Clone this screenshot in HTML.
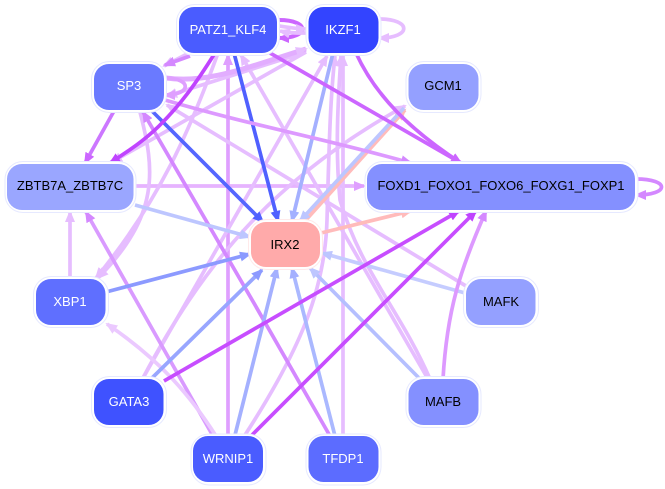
<!DOCTYPE html>
<html>
<head>
<meta charset="utf-8">
<style>
html,body{margin:0;padding:0;background:#fff;width:665px;height:489px;overflow:hidden}
svg{display:block}
text{font-family:"Liberation Sans",sans-serif;font-size:13px;text-anchor:middle}
path{fill:none;stroke-width:3.7}
.n{stroke:none}
.o{fill:#fff;stroke:#e6e9ff;stroke-width:1}
</style>
</head>
<body>
<svg xmlns="http://www.w3.org/2000/svg" width="665" height="489" viewBox="0 0 665 489">
<defs>
<marker id="a" markerUnits="userSpaceOnUse" markerWidth="13" markerHeight="10" refX="10" refY="5" orient="auto"><polygon points="0,0 12,5 0,10" fill="#e6bdff"/></marker>
<marker id="b" markerUnits="userSpaceOnUse" markerWidth="13" markerHeight="10" refX="10" refY="5" orient="auto"><polygon points="0,0 12,5 0,10" fill="#df9fff"/></marker>
<marker id="c" markerUnits="userSpaceOnUse" markerWidth="13" markerHeight="10" refX="10" refY="5" orient="auto"><polygon points="0,0 12,5 0,10" fill="#cc66ff"/></marker>
<marker id="d" markerUnits="userSpaceOnUse" markerWidth="13" markerHeight="10" refX="10" refY="5" orient="auto"><polygon points="0,0 12,5 0,10" fill="#c044ff"/></marker>
<marker id="e" markerUnits="userSpaceOnUse" markerWidth="13" markerHeight="10" refX="10" refY="5" orient="auto"><polygon points="0,0 12,5 0,10" fill="#5060ff"/></marker>
<marker id="f" markerUnits="userSpaceOnUse" markerWidth="13" markerHeight="10" refX="10" refY="5" orient="auto"><polygon points="0,0 12,5 0,10" fill="#8c9aff"/></marker>
<marker id="g" markerUnits="userSpaceOnUse" markerWidth="13" markerHeight="10" refX="10" refY="5" orient="auto"><polygon points="0,0 12,5 0,10" fill="#a4b0ff"/></marker>
<marker id="h" markerUnits="userSpaceOnUse" markerWidth="13" markerHeight="10" refX="10" refY="5" orient="auto"><polygon points="0,0 12,5 0,10" fill="#bdc6ff"/></marker>
<marker id="i" markerUnits="userSpaceOnUse" markerWidth="13" markerHeight="10" refX="10" refY="5" orient="auto"><polygon points="0,0 12,5 0,10" fill="#ffbbbb"/></marker>
<marker id="j" markerUnits="userSpaceOnUse" markerWidth="13" markerHeight="10" refX="10" refY="5" orient="auto"><polygon points="0,0 12,5 0,10" fill="#d488ff"/></marker>
<marker id="k" markerUnits="userSpaceOnUse" markerWidth="13" markerHeight="10" refX="10" refY="5" orient="auto"><polygon points="0,0 12,5 0,10" fill="#ebc9ff"/></marker>
</defs>

<!-- pale edges -->
<path d="M134 186 L364 186" stroke="#e6b3ff" marker-end="url(#b)"/>
<path d="M70 278 L70 212" stroke="#e6bdff" marker-end="url(#a)"/>
<path d="M228 436 L228 55" stroke="#df9fff" marker-end="url(#b)"/>
<path d="M343 436 L343 56" stroke="#e6bdff" marker-end="url(#a)"/>
<path d="M143 378 L327 56" stroke="#e6bdff" marker-end="url(#a)"/>
<path d="M143 378 C200 270 270 180 405 106" stroke="#e6bdff" marker-end="url(#a)"/>
<path d="M245 435 C300 350 325 290 327 220 C329 150 330 100 335 56" stroke="#e6bdff" marker-end="url(#a)"/>
<path d="M430 379 C400 310 360 270 340 200 C335 150 338 100 341 56" stroke="#e6bdff" marker-end="url(#a)"/>
<path d="M428 379 L241 55" stroke="#e6bdff" marker-end="url(#a)"/>
<path d="M218 53 C190 130 160 200 96 278" stroke="#e6bdff" marker-end="url(#a)"/>
<path d="M140 112 C155 170 160 215 98 278" stroke="#e6bdff" marker-end="url(#a)"/>
<path d="M306 52 L112 162" stroke="#e6bdff" marker-end="url(#a)"/>
<path d="M466 286 L167 105" stroke="#e6bdff" marker-end="url(#a)"/>
<path d="M306 52 L167 96" stroke="#e6bdff" marker-end="url(#a)"/>
<path d="M166 78 C210 84 250 66 306 49" stroke="#e2adff" style="stroke-width:5" marker-end="url(#a)"/>
<path d="M165 78 C192 78 192 95 165 95" stroke="#df9fff" marker-end="url(#b)"/>
<path d="M187 54 L164 66" stroke="#e6bdff" marker-end="url(#a)"/>
<path d="M190 56 L165 65" stroke="#d488ff" marker-end="url(#j)"/>
<path d="M213 436 C170 360 130 290 86 212" stroke="#d99aff" marker-end="url(#j)"/>
<path d="M216 436 C190 395 160 360 107 324" stroke="#ebc9ff" marker-end="url(#k)"/>
<path d="M330 436 C270 330 200 210 143 112" stroke="#d488ff" marker-end="url(#j)"/>

<!-- blue edges -->
<path d="M234 53 L278 221" stroke="#5060ff" marker-end="url(#e)"/>
<path d="M152 111 L263 222" stroke="#5566ff" marker-end="url(#e)"/>
<path d="M333 53 L292 221" stroke="#a4b0ff" marker-end="url(#g)"/>
<path d="M135 205 L250 237" stroke="#bdc6ff" marker-end="url(#h)"/>
<path d="M106 292 L250 254" stroke="#8c9aff" marker-end="url(#f)"/>
<path d="M152 378 L262 270" stroke="#98a6ff" marker-end="url(#f)"/>
<path d="M235 435 L277 268" stroke="#a4b0ff" marker-end="url(#g)"/>
<path d="M335 436 L292 268" stroke="#aab8ff" marker-end="url(#g)"/>
<path d="M420 379 L310 268" stroke="#b5bfff" marker-end="url(#h)"/>
<path d="M465 293 L322 253" stroke="#c5ccff" marker-end="url(#h)"/>
<path d="M305 221 L405 110" stroke="#ffbbbb" marker-end="url(#i)"/>
<path d="M321 233 L411 211" stroke="#ffbbbb" marker-end="url(#i)"/>
<path d="M404 108 L300 221" stroke="#bdc6ff" marker-end="url(#h)"/>

<!-- purple -->
<path d="M165 100 C250 125 330 140 411 163" stroke="#dd99ff" marker-end="url(#j)"/>
<path d="M114 111 L85 163" stroke="#cc77ff" marker-end="url(#c)"/>
<path d="M215 53 C195 85 180 105 160 125 C145 140 130 150 110 163" stroke="#c044ff" marker-end="url(#d)"/>
<path d="M270 53 L461 163" stroke="#cc66ff" marker-end="url(#c)"/>
<path d="M356 53 C375 95 410 130 461 163" stroke="#cc66ff" marker-end="url(#c)"/>
<path d="M164 381 L459 211" stroke="#c74dff" marker-end="url(#d)"/>
<path d="M252 435 L476 211" stroke="#c74dff" marker-end="url(#d)"/>
<path d="M443 379 C447 310 460 270 486 211" stroke="#dd99ff" marker-end="url(#j)"/>

<!-- loops -->
<path d="M279 20 C310 20 310 38 279 38" stroke="#cc66ff" style="stroke-width:4" marker-end="url(#c)"/>
<path d="M279 26 C292 28 298 29 306 29" stroke="#e6bdff" marker-end="url(#a)"/>
<path d="M306 33 C295 33 288 33 280 31" stroke="#e6bdff" marker-end="url(#a)"/>
<path d="M379 19 C412 19 412 38 379 38" stroke="#e6bdff" marker-end="url(#a)"/>
<path d="M636 179 C670 179 670 195 636 195" stroke="#d488ff" marker-end="url(#j)"/>

<!-- nodes -->
<rect class="o" x="176.500" y="4.500" width="103" height="51" rx="18"/><rect class="n" x="179" y="7" width="98" height="46" rx="15" fill="#4a5cff"/>
<text x="228" y="34" fill="#fff">PATZ1_KLF4</text>

<rect class="o" x="306" y="4.500" width="75" height="51" rx="18"/><rect class="n" x="308.500" y="7" width="70" height="46" rx="15" fill="#3344ff"/>
<text x="343" y="34" fill="#fff">IKZF1</text>

<rect class="o" x="91.500" y="61.500" width="75" height="51" rx="18"/><rect class="n" x="94" y="64" width="70" height="46" rx="15" fill="#6a7aff"/>
<text x="129" y="90" fill="#fff">SP3</text>

<rect class="o" x="406" y="61.500" width="75" height="51" rx="18"/><rect class="n" x="408.500" y="64" width="70" height="46" rx="15" fill="#94a0ff"/>
<text x="443" y="90">GCM1</text>

<rect class="o" x="5" y="161.500" width="131" height="51" rx="18"/><rect class="n" x="7" y="164" width="126.500" height="46" rx="15" fill="#9aa6ff"/>
<text x="70" y="190">ZBTB7A_ZBTB7C</text>

<rect class="o" x="365" y="161.500" width="273" height="51" rx="18"/><rect class="n" x="367" y="164" width="268" height="46" rx="15" fill="#8490ff"/>
<text x="501" y="190">FOXD1_FOXO1_FOXO6_FOXG1_FOXP1</text>

<rect class="o" x="248.500" y="219.500" width="74" height="50" rx="18" style="stroke:#ffeaea"/><rect class="n" x="251" y="222" width="69" height="45" rx="15" fill="#ffaaaa"/>
<text x="285" y="249">IRX2</text>

<rect class="o" x="33.500" y="276.500" width="75" height="51" rx="18"/><rect class="n" x="36" y="279" width="69.500" height="46" rx="15" fill="#5f6fff"/>
<text x="70" y="306" fill="#fff">XBP1</text>

<rect class="o" x="463.500" y="276.500" width="75" height="51" rx="18"/><rect class="n" x="466" y="279" width="69.500" height="46" rx="15" fill="#94a0ff"/>
<text x="501" y="306">MAFK</text>

<rect class="o" x="91.500" y="376.500" width="75" height="51" rx="18"/><rect class="n" x="94" y="379" width="69.500" height="46" rx="15" fill="#3f52ff"/>
<text x="129" y="406" fill="#fff">GATA3</text>

<rect class="o" x="406" y="376.500" width="75" height="51" rx="18"/><rect class="n" x="408.500" y="379" width="70" height="46" rx="15" fill="#8490ff"/>
<text x="443" y="406">MAFB</text>

<rect class="o" x="191" y="434" width="75" height="51" rx="18"/><rect class="n" x="193" y="436" width="70" height="46" rx="15" fill="#4a5cff"/>
<text x="228" y="463" fill="#fff">WRNIP1</text>

<rect class="o" x="306" y="434" width="75" height="51" rx="18"/><rect class="n" x="308.500" y="436" width="70" height="46" rx="15" fill="#5c6cff"/>
<text x="343" y="463" fill="#fff">TFDP1</text>
</svg>
</body>
</html>
